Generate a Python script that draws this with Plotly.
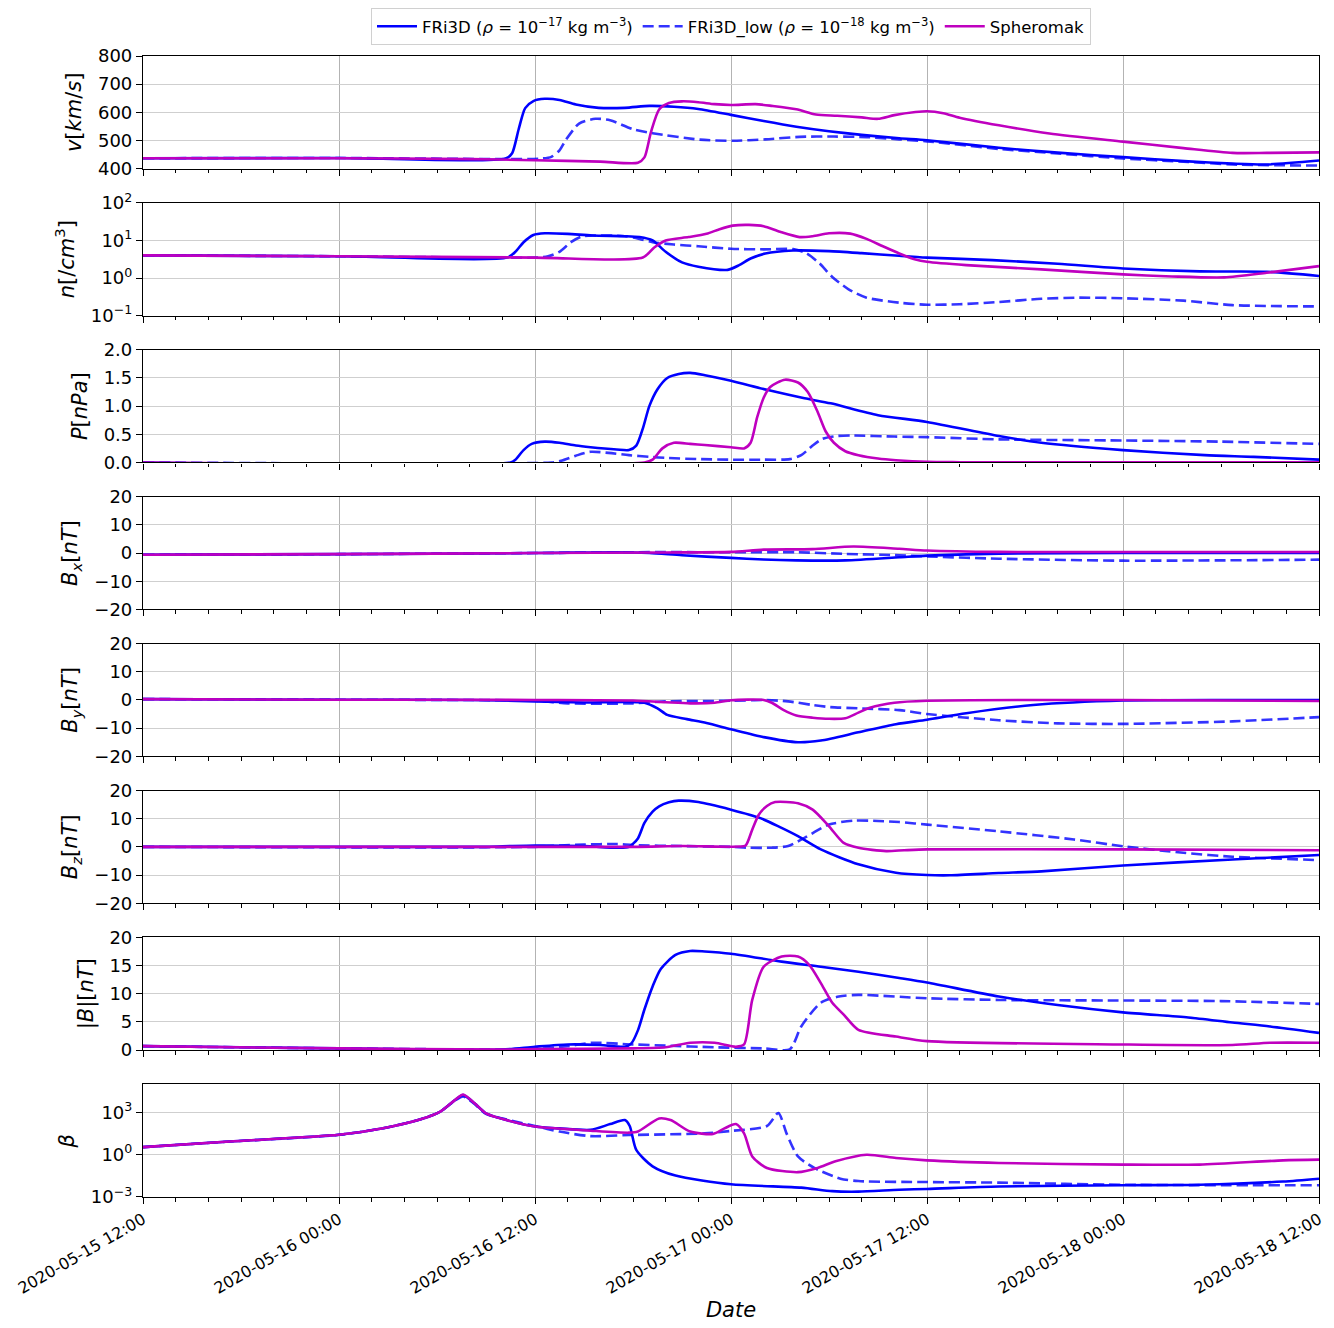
import pandas as pd
import plotly.graph_objects as go
from plotly.subplots import make_subplots

# start of the time axis, all samples below are (hours after start, value)
t_start = "2020-05-15 12:00"
t_end = "2020-05-18 12:00"

# solar wind speed [km/s]
v_fri3d = [(0, 437), (12, 438), (22.2, 436), (22.6, 455), (23.0, 540), (23.4, 615), (23.9, 640),
           (24.6, 648), (25.5, 644), (26.5, 628), (27.9, 616), (29.5, 616), (31, 623), (32.5, 620),
           (34, 612), (36, 591), (38, 569), (40, 549), (42, 533), (44, 520), (46.3, 508), (48, 501),
           (52.4, 474), (56, 457), (60, 441), (64, 426), (66.7, 418), (68.8, 415), (72, 429)]
v_low = [(0, 437), (12, 438), (24.4, 436), (25.0, 442), (25.5, 465), (25.9, 503), (26.7, 560),
         (27.7, 577), (28.6, 572), (30, 540), (31.2, 526), (34.1, 503), (36.1, 499), (38.1, 504),
         (40.2, 513), (42.3, 514), (44.3, 512), (46.3, 504), (48, 497), (52.4, 470), (56, 454),
         (60, 436), (64, 424), (66.7, 415), (72, 411)]
v_sph = [(0, 437), (12, 437), (20, 434), (24, 430), (28, 425), (30.3, 421), (30.7, 440), (31.1, 530),
         (31.6, 610), (32.2, 633), (33, 639), (34, 636), (35, 629), (36, 626), (37.5, 629), (38.5, 623),
         (40, 611), (41.2, 592), (42.5, 588), (44, 582), (45, 577), (46, 590), (47.3, 601), (48, 604),
         (49, 597), (50, 581), (52.4, 554), (55.5, 525), (60, 496), (63.7, 473), (66.7, 456),
         (68.8, 456), (72, 458)]

# density [/cm^3]
n_fri3d = [(0, 4.0), (12, 3.8), (22.3, 3.5), (22.8, 5), (23.3, 9), (23.9, 14), (24.6, 15.5), (26, 15),
           (27.5, 13.5), (29.5, 13), (30.4, 12.3), (31.2, 10), (32, 5), (33, 2.6), (34, 2.0),
           (35.8, 1.65), (36.5, 2.2), (37.2, 3.3), (38.1, 4.5), (39.8, 5.4), (42, 5.2), (44, 4.6),
           (46.3, 3.9), (48, 3.5), (52, 3.0), (56, 2.4), (60, 1.8), (64.7, 1.5), (68.8, 1.47), (72, 1.13)]
n_low = [(0, 4.0), (12, 3.8), (24, 3.5), (24.8, 3.8), (25.5, 5), (26.2, 9), (26.8, 12.5), (27.5, 13.5),
         (29.5, 13), (30.4, 11), (31.2, 9), (32.5, 7.8), (34, 7), (36, 6), (38, 5.8), (39.8, 5.9),
         (40.6, 4.6), (41.4, 2.5), (42.2, 1.07), (43.2, 0.5), (44.3, 0.3), (46.3, 0.22), (48, 0.195),
         (50, 0.2), (52.4, 0.23), (55, 0.28), (57.3, 0.30), (60, 0.29), (63.7, 0.25), (66.7, 0.19),
         (72, 0.175)]
n_sph = [(0, 4.0), (12, 3.8), (24, 3.5), (30.6, 3.5), (31.3, 6.5), (32, 10), (33.4, 12.3), (34.5, 15),
         (35.3, 20), (36.1, 24.8), (37.1, 26), (38, 24), (39, 17), (40.2, 12.3), (41, 13), (42, 15.5),
         (43.3, 15.2), (44.3, 11), (45.3, 7), (46.3, 4.5), (47.3, 3.1), (48, 2.7), (50.4, 2.2),
         (55, 1.7), (60, 1.25), (63, 1.1), (66.2, 1.04), (68.8, 1.38), (72, 2.07)]

# pressure [nPa]
p_fri3d = [(0, 0), (22.5, 0), (22.8, 0.05), (23.3, 0.22), (23.8, 0.33), (24.6, 0.37), (25.5, 0.35),
           (26.5, 0.3), (27.4, 0.27), (29.0, 0.23), (29.75, 0.22), (30.2, 0.3), (30.6, 0.6), (31.0, 1.0),
           (31.5, 1.3), (32.1, 1.5), (32.8, 1.57), (33.5, 1.59), (34.4, 1.55), (36, 1.45), (38.2, 1.29),
           (40.5, 1.14), (42.1, 1.05), (45, 0.84), (48, 0.72), (52.4, 0.47), (55, 0.35), (60, 0.22),
           (65, 0.13), (68, 0.1), (72, 0.05)]
p_low = [(0, 0), (25, 0), (25.6, 0.03), (26.5, 0.12), (27.4, 0.19), (28.5, 0.17), (29.75, 0.13),
         (31, 0.1), (32.1, 0.08), (34, 0.06), (36, 0.05), (38, 0.05), (39.6, 0.06), (40.3, 0.13),
         (41, 0.3), (41.6, 0.42), (42.5, 0.47), (43.4, 0.48), (46, 0.46), (48, 0.45), (52.4, 0.41),
         (60, 0.39), (66, 0.37), (72, 0.33)]
p_sph = [(0, 0), (30.7, 0), (31.2, 0.05), (31.8, 0.25), (32.5, 0.35), (33.5, 0.33), (34.4, 0.31),
         (36, 0.27), (36.8, 0.25), (37.2, 0.35), (37.6, 0.8), (38, 1.15), (38.4, 1.34), (39.3, 1.47),
         (40.1, 1.42), (40.7, 1.25), (41.3, 0.9), (41.8, 0.55), (42.3, 0.35), (43, 0.2), (43.8, 0.13),
         (45, 0.07), (46.1, 0.04), (48, 0.01), (50, 0.005), (72, 0.005)]

# magnetic field components [nT]
bx_fri3d = [(0, -0.6), (12, -0.4), (24, 0), (29, 0.3), (31, 0), (33, -0.8), (36, -1.7), (38, -2.3),
            (40, -2.6), (43, -2.6), (46.3, -1.5), (48, -0.9), (52.4, -0.2), (60, 0), (72, 0)]
bx_low = [(0, -0.6), (12, -0.4), (24, 0), (30, 0.3), (36, 0.3), (40, 0.3), (43, -0.3), (46.3, -0.8),
          (48, -1.2), (52.4, -2.0), (60, -2.7), (72, -2.35)]
bx_sph = [(0, -0.6), (12, -0.4), (24, 0), (32, 0.2), (36, 0.4), (38, 1.2), (41, 1.4), (43.5, 2.3),
          (46.3, 1.5), (48, 0.9), (52.4, 0.4), (72, 0.35)]

by_fri3d = [(0, 0.3), (12, 0.1), (20, 0), (24, -0.5), (27, -0.9), (30.7, -1.0), (31.5, -3), (32.1, -5.3),
            (33.3, -6.8), (34.5, -8.2), (36, -10.4), (38, -13.2), (40.1, -15), (41.5, -14.4),
            (43.8, -11.5), (46.1, -8.6), (48, -7.0), (50.4, -4.7), (54.5, -1.8), (60, -0.2), (66.7, 0),
            (72, 0)]
by_low = [(0, 0.3), (12, 0.1), (24, -0.3), (26, -1.2), (30, -1.2), (32, -0.5), (36, -0.3), (38, 0),
          (39.5, -0.5), (41, -1.8), (42, -2.5), (44, -3.0), (46.3, -3.6), (48, -5.0), (52.4, -7.2),
          (56, -8.3), (60, -8.5), (66.7, -7.6), (72, -6.1)]
by_sph = [(0, 0.3), (12, 0.1), (24, 0), (30, -0.2), (32, -0.8), (33.5, -1.2), (35, -1.0), (36, -0.1),
          (38, 0), (38.5, -1.0), (39.2, -3.5), (40, -5.5), (41, -6.3), (42, -6.7), (43, -6.5),
          (43.8, -4.5), (44.5, -2.8), (46, -1.0), (48, -0.3), (60, 0), (72, -0.35)]

bz_fri3d = [(0, 0), (21, 0), (22.5, 0.3), (24, 0.5), (27, 0.3), (29, -0.3), (29.75, 0), (30.3, 3),
            (30.7, 8.5), (31.2, 12.5), (31.6, 14.4), (32.2, 15.8), (32.8, 16.4), (34, 15.9), (36, 13.2),
            (37.8, 10.2), (39, 7), (40.1, 3.8), (41.5, -0.9), (43.8, -6.2), (46.1, -9.2), (48, -10),
            (49.4, -10.1), (52.4, -9.3), (55, -8.7), (60, -6.6), (66.7, -4.5), (72, -2.9)]
bz_low = [(0, 0), (24, 0), (25.5, 0.5), (27, 0.8), (29, 1.0), (30, 0.6), (33, 0.3), (36, 0), (37, -0.3),
          (38.5, -0.3), (39.5, 0.3), (40.5, 3.2), (42, 7.9), (43.5, 9.3), (45, 9.2), (46.3, 8.8),
          (48, 7.9), (52.4, 5.5), (57, 2.6), (60, 0.2), (63.7, -2.1), (66.7, -3.5), (72, -4.7)]
bz_sph = [(0, 0), (30, 0), (33, 0.3), (36.5, 0.1), (36.9, 0.5), (37.3, 6.1), (37.7, 11.4), (38.2, 14.5),
          (38.7, 15.9), (40.1, 15.5), (41, 13.2), (42, 7.3), (42.9, 1.4), (43.8, -0.35), (45.5, -1.5),
          (46.6, -1.2), (48, -0.9), (60, -0.9), (72, -1.2)]

# |B| [nT]
b_fri3d = [(0, 0.7), (6, 0.5), (12, 0.3), (18, 0.1), (22, 0.1), (24, 0.6), (26, 1.0), (28, 0.9),
           (29.5, 0.6), (29.9, 1.2), (30.3, 3.5), (30.7, 7.2), (31.2, 11.3), (31.7, 14.4), (32.6, 16.9),
           (33.5, 17.6), (34.4, 17.5), (36, 17.1), (39.1, 15.7), (41.5, 14.8), (43.8, 13.9),
           (46.3, 12.8), (48, 12.0), (52.4, 9.5), (56, 8.0), (60, 6.7), (64, 5.8), (66.7, 4.9),
           (69, 4.2), (72, 3.06)]
b_low = [(0, 0.7), (12, 0.3), (22, 0.1), (24, 0.2), (26, 0.7), (27.5, 1.3), (30, 1.0), (32, 0.8),
         (35, 0.5), (38, 0.3), (39.6, 0.15), (40.3, 4.2), (41.5, 8.4), (42.6, 9.5), (43.8, 9.8),
         (48, 9.2), (52.4, 8.9), (60, 8.8), (66, 8.7), (72, 8.2)]
b_sph = [(0, 0.7), (12, 0.3), (22, 0.1), (24, 0.2), (30, 0.3), (32, 0.5), (33.5, 1.3), (35, 1.3),
         (36.3, 0.6), (36.8, 1.0), (37.3, 8.9), (38, 14.8), (39.1, 16.6), (40.1, 16.6), (40.8, 15.1),
         (41.5, 11.9), (42.2, 8.4), (42.9, 6.3), (43.8, 3.6), (46.1, 2.4), (48, 1.6), (60, 1.0),
         (66.7, 0.9), (69, 1.3), (72, 1.3)]

# plasma beta
beta_fri3d = [(0, 3.5), (5.3, 8.7), (12, 26), (14.7, 76), (17, 330), (18.2, 1150), (19.1, 7600),
              (19.6, 17000), (20.3, 4500), (21, 870), (22.2, 300), (24, 100), (25.5, 74), (27.4, 58),
              (28.6, 150), (29.5, 290), (29.8, 110), (30.2, 2.2), (31.2, 0.15), (32.6, 0.033),
              (36, 0.008), (40.3, 0.0046), (42.2, 0.0026), (43.8, 0.0024), (46.3, 0.0033),
              (48, 0.0037), (52.4, 0.0056), (60, 0.0068), (64.7, 0.0074), (69.8, 0.0126), (72, 0.02)]
beta_low = [(0, 3.5), (5.3, 8.7), (12, 26), (14.7, 76), (17, 330), (18.2, 1150), (19.1, 7000),
            (19.6, 14000), (20.3, 4000), (21, 800), (22.2, 330), (24, 110), (25.5, 44), (27.4, 21),
            (29.75, 25), (34.4, 33), (36, 49), (38.2, 110), (38.9, 930), (39.4, 33), (40.1, 0.76),
            (41.1, 0.115), (42.7, 0.02), (43.8, 0.0135), (48, 0.0115), (52.4, 0.0105), (60, 0.0074),
            (72, 0.0068)]
beta_sph = [(0, 3.5), (5.3, 8.7), (12, 26), (14.7, 76), (17, 330), (18.2, 1150), (19.1, 7600),
            (19.6, 19000), (20.3, 4500), (21, 870), (22.2, 300), (24, 100), (27.4, 51), (29.75, 37),
            (30.3, 45), (31.6, 380), (32.3, 290), (33.5, 44), (34.9, 30), (35.6, 74), (36.3, 150),
            (36.8, 33), (37.3, 0.76), (38.2, 0.115), (40.1, 0.058), (41.3, 0.115), (42.4, 0.34),
            (44.3, 1.0), (46.1, 0.59), (48, 0.4), (52.4, 0.26), (60, 0.2), (64.7, 0.2), (69.8, 0.4),
            (72, 0.45)]

names = ["FRi3D (<i>ρ</i> = 10<sup>−17</sup> kg m<sup>−3</sup>)",
         "FRi3D_low (<i>ρ</i> = 10<sup>−18</sup> kg m<sup>−3</sup>)",
         "Spheromak"]

panels = [
    ([v_fri3d, v_low, v_sph], "<i>v</i>[<i>km</i>/<i>s</i>]"),
    ([n_fri3d, n_low, n_sph], "<i>n</i>[/<i>cm</i><sup>3</sup>]"),
    ([p_fri3d, p_low, p_sph], "<i>P</i>[<i>nPa</i>]"),
    ([bx_fri3d, bx_low, bx_sph], "<i>B<sub>x</sub></i>[<i>nT</i>]"),
    ([by_fri3d, by_low, by_sph], "<i>B<sub>y</sub></i>[<i>nT</i>]"),
    ([bz_fri3d, bz_low, bz_sph], "<i>B<sub>z</sub></i>[<i>nT</i>]"),
    ([b_fri3d, b_low, b_sph], "|<i>B</i>|[<i>nT</i>]"),
    ([beta_fri3d, beta_low, beta_sph], "<i>β</i>"),
]

styles = [
    dict(color="#0000ff", width=2.6, dash="solid"),
    dict(color="rgba(0,0,255,0.8)", width=2.6, dash="11px,5px"),
    dict(color="#bf00bf", width=2.6, dash="solid"),
]

t0 = pd.Timestamp(t_start)


def to_xy(samples):
    hours = [s[0] for s in samples]
    vals = [s[1] for s in samples]
    return t0 + pd.to_timedelta(hours, unit="h"), vals


fig = make_subplots(rows=8, cols=1, shared_xaxes=True, vertical_spacing=0.03)

for row, (series, title) in enumerate(panels, start=1):
    for k, samples in enumerate(series):
        x, y = to_xy(samples)
        fig.add_trace(go.Scatter(
            x=x, y=y, mode="lines", name=names[k],
            line=dict(shape="spline", smoothing=0.7, **styles[k]),
            showlegend=(row == 1),
        ), row=row, col=1)
    fig.update_yaxes(title_text=title, row=row, col=1)

axis_common = dict(showline=True, mirror=True, linecolor="black", linewidth=1.2,
                   ticks="outside", tickcolor="black", ticklen=6, automargin=False,
                   showgrid=True, zeroline=False, tickfont=dict(size=18, color="black"))

fig.update_xaxes(**axis_common)
fig.update_xaxes(gridcolor="#b3b3b3", type="date", range=[t_start, t_end],
                 dtick=12 * 3600 * 1000, tick0=t_start, tickformat="%Y-%m-%d %H:%M",
                 tickangle=-30, tickfont=dict(size=16),
                 minor=dict(dtick=2 * 3600 * 1000, ticks="outside", ticklen=3.5,
                            tickcolor="black", showgrid=False))
fig.update_yaxes(**axis_common)
fig.update_yaxes(gridcolor="#cfcfcf", title_font=dict(size=21), title_standoff=10)

fig.update_yaxes(range=[400, 800], dtick=100, row=1, col=1)
fig.update_yaxes(type="log", range=[-1, 2], tickvals=[0.1, 1, 10, 100],
                 ticktext=["10<sup>−1</sup>", "10<sup>0</sup>", "10<sup>1</sup>", "10<sup>2</sup>"],
                 row=2, col=1)
fig.update_yaxes(range=[0, 2], dtick=0.5, tickformat=".1f", row=3, col=1)
for r in (4, 5, 6):
    fig.update_yaxes(range=[-20, 20], dtick=10, row=r, col=1)
fig.update_yaxes(range=[0, 20], dtick=5, row=7, col=1)
fig.update_yaxes(type="log", range=[-3, 5], tickvals=[1e-3, 1, 1e3],
                 ticktext=["10<sup>−3</sup>", "10<sup>0</sup>", "10<sup>3</sup>"], row=8, col=1)

fig.update_xaxes(title_text="<i>Date</i>", title_font=dict(size=21), title_standoff=2, row=8, col=1)

# the page adds an 8px body margin, so the margins below are shifted by that
fig.update_layout(
    width=1334, height=1328,
    margin=dict(l=135, r=23, t=48, b=139),
    paper_bgcolor="white", plot_bgcolor="white",
    font=dict(family="DejaVu Sans", color="black", size=15),
    legend=dict(orientation="h", x=0.5, xanchor="center", yref="container", y=1.0, yanchor="top",
                bordercolor="#d0d0d0", borderwidth=1, font=dict(size=16.5),
                itemwidth=40, entrywidthmode="pixels"),
)

fig.write_html("out.html")
